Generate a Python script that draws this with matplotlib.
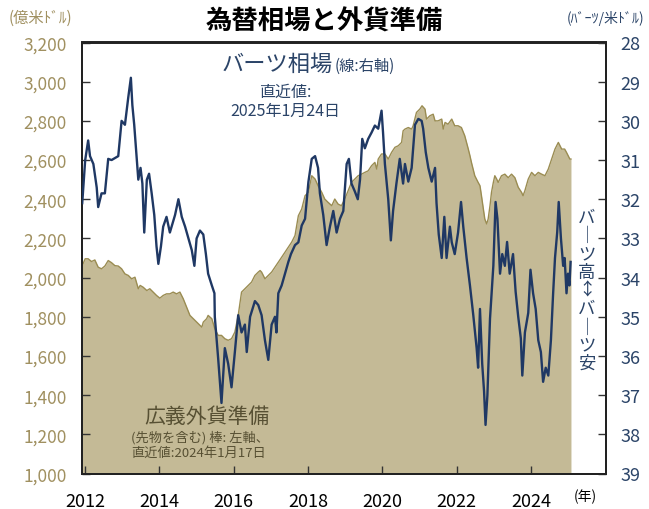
import matplotlib
matplotlib.use("Agg")
import matplotlib.pyplot as plt
from matplotlib.ticker import FuncFormatter

plt.rcParams['font.family'] = ['Noto Sans CJK JP', 'DejaVu Sans']

# ---- data ----
baht_year = [2011.92, 2012.00, 2012.08, 2012.13, 2012.22, 2012.31, 2012.35, 2012.44, 2012.53, 2012.62,
             2012.71, 2012.89, 2012.98, 2013.07, 2013.16, 2013.23, 2013.27, 2013.32, 2013.39, 2013.43,
             2013.49, 2013.54, 2013.59, 2013.66, 2013.72, 2013.79, 2013.86, 2013.92, 2013.97, 2014.04,
             2014.10, 2014.19, 2014.28, 2014.42, 2014.51, 2014.60, 2014.69, 2014.78, 2014.87, 2014.94,
             2015.00, 2015.09, 2015.18, 2015.25, 2015.31, 2015.41, 2015.48, 2015.49, 2015.58, 2015.67,
             2015.76, 2015.85, 2015.94, 2016.03, 2016.12, 2016.21, 2016.30, 2016.35, 2016.44, 2016.57,
             2016.66, 2016.75, 2016.84, 2016.93, 2017.02, 2017.11, 2017.15, 2017.20, 2017.29, 2017.38,
             2017.47, 2017.54, 2017.65, 2017.74, 2017.83, 2017.92, 2018.01, 2018.10, 2018.19, 2018.27,
             2018.32, 2018.41, 2018.50, 2018.59, 2018.68, 2018.77, 2018.86, 2018.95, 2019.04, 2019.10,
             2019.17, 2019.26, 2019.34, 2019.40, 2019.46, 2019.53, 2019.62, 2019.71, 2019.80, 2019.89,
             2019.98, 2020.02, 2020.07, 2020.16, 2020.23, 2020.29, 2020.38, 2020.47, 2020.56, 2020.61,
             2020.70, 2020.79, 2020.88, 2020.97, 2021.06, 2021.10, 2021.17, 2021.24, 2021.33, 2021.42,
             2021.46, 2021.52, 2021.60, 2021.67, 2021.73, 2021.82, 2021.87, 2021.95, 2022.04, 2022.12,
             2022.18, 2022.27, 2022.36, 2022.45, 2022.54, 2022.58, 2022.63, 2022.69, 2022.74, 2022.78,
             2022.83, 2022.90, 2022.99, 2023.05, 2023.10, 2023.17, 2023.23, 2023.30, 2023.36, 2023.43,
             2023.52, 2023.59, 2023.66, 2023.73, 2023.77, 2023.84, 2023.93, 2023.99, 2024.06, 2024.13,
             2024.20, 2024.27, 2024.33, 2024.40, 2024.47, 2024.54, 2024.60, 2024.65, 2024.71, 2024.75,
             2024.81, 2024.87, 2024.91, 2024.96, 2025.00, 2025.04, 2025.07]
baht_rate = [32.1, 31.0, 30.5, 30.9, 31.1, 31.7, 32.2, 31.85, 31.85, 30.97,
             31.0, 30.9, 30.0, 30.1, 29.4, 28.9, 29.6, 30.1, 30.97, 31.5,
             31.2, 31.6, 32.85, 31.5, 31.35, 31.85, 32.4, 33.2, 33.65, 33.2,
             32.7, 32.45, 32.85, 32.4, 32.0, 32.45, 32.7, 33.0, 33.3, 33.7,
             33.0, 32.8, 32.9, 33.4, 33.9, 34.2, 34.4, 35.0, 36.06, 37.2,
             35.8, 36.2, 36.8, 35.9, 34.96, 35.4, 35.2, 35.9, 35.0, 34.6,
             34.7, 34.96, 35.6, 36.1, 35.2, 35.0, 35.4, 34.4, 34.2, 33.9,
             33.6, 33.4, 33.17, 33.1, 32.67, 32.5, 31.56, 30.97, 30.9, 31.2,
             31.85, 32.4, 33.17, 32.7, 32.3, 32.85, 32.5, 32.3, 31.1, 30.97,
             31.6, 31.8, 32.0, 31.5, 30.46, 30.7, 30.46, 30.3, 30.12, 30.2,
             29.74, 30.3, 31.1, 32.0, 33.05, 32.3, 31.6, 30.97, 31.6, 31.1,
             31.55, 31.2, 30.1, 29.95, 30.0, 30.2, 30.8, 31.2, 31.55, 31.2,
             32.1, 32.9, 33.5, 32.45, 33.5, 32.7, 33.1, 33.4, 32.85, 32.07,
             32.7, 33.5, 34.2, 34.96, 35.8, 36.3, 34.8, 36.2, 36.9, 37.76,
             37.0, 35.05, 33.7, 32.07, 32.5, 33.9, 33.4, 33.7, 33.09, 33.9,
             33.4, 34.36, 35.0, 35.55, 36.5, 35.4, 34.9, 33.8, 34.4, 34.8,
             35.6, 35.9, 36.66, 36.3, 36.5, 35.6, 34.4, 33.5, 32.84, 32.07,
             33.0, 33.7, 33.5, 34.4, 33.9, 34.2, 33.6]

res_year = [2011.92, 2012.00, 2012.08, 2012.17, 2012.26, 2012.35, 2012.44, 2012.53, 2012.62, 2012.71,
            2012.80, 2012.89, 2012.98, 2013.07, 2013.16, 2013.25, 2013.34, 2013.43, 2013.48, 2013.56,
            2013.66, 2013.74, 2013.83, 2013.92, 2014.01, 2014.10, 2014.19, 2014.28, 2014.37, 2014.46,
            2014.55, 2014.64, 2014.73, 2014.82, 2014.91, 2015.00, 2015.09, 2015.14, 2015.18, 2015.27,
            2015.31, 2015.41, 2015.49, 2015.58, 2015.67, 2015.76, 2015.85, 2015.94, 2016.03, 2016.12,
            2016.21, 2016.30, 2016.39, 2016.48, 2016.57, 2016.66, 2016.71, 2016.75, 2016.84, 2016.93,
            2017.02, 2017.11, 2017.20, 2017.29, 2017.38, 2017.47, 2017.56, 2017.65, 2017.74, 2017.83,
            2017.92, 2018.01, 2018.10, 2018.19, 2018.27, 2018.37, 2018.45, 2018.54, 2018.64, 2018.72,
            2018.81, 2018.90, 2018.99, 2019.08, 2019.17, 2019.26, 2019.35, 2019.44, 2019.53, 2019.62,
            2019.71, 2019.80, 2019.85, 2019.89, 2019.98, 2020.07, 2020.16, 2020.25, 2020.34, 2020.43,
            2020.52, 2020.56, 2020.61, 2020.70, 2020.79, 2020.83, 2020.92, 2021.01, 2021.07, 2021.15,
            2021.19, 2021.28, 2021.37, 2021.42, 2021.50, 2021.60, 2021.64, 2021.69, 2021.77, 2021.87,
            2021.95, 2022.04, 2022.13, 2022.22, 2022.31, 2022.36, 2022.40, 2022.49, 2022.58, 2022.63,
            2022.67, 2022.72, 2022.76, 2022.81, 2022.85, 2022.90, 2022.94, 2022.99, 2023.03, 2023.08,
            2023.12, 2023.21, 2023.30, 2023.39, 2023.48, 2023.57, 2023.66, 2023.75, 2023.79, 2023.84,
            2023.93, 2024.02, 2024.11, 2024.20, 2024.29, 2024.38, 2024.47, 2024.56, 2024.65, 2024.74,
            2024.83, 2024.91, 2024.96, 2025.05, 2025.08]
res_value = [2061, 2096, 2096, 2082, 2090, 2053, 2045, 2059, 2087, 2076,
             2061, 2059, 2045, 2019, 2011, 1994, 2002, 1943, 1960, 1951,
             1934, 1943, 1926, 1909, 1895, 1909, 1917, 1917, 1926, 1917,
             1926, 1892, 1850, 1807, 1790, 1773, 1756, 1747, 1773, 1790,
             1807, 1790, 1739, 1705, 1705, 1688, 1680, 1688, 1722, 1807,
             1926, 1943, 1960, 1977, 2011, 2028, 2036, 2028, 1994, 2011,
             2028, 2053, 2079, 2104, 2130, 2155, 2181, 2215, 2316, 2350,
             2418, 2435, 2520, 2503, 2469, 2435, 2401, 2384, 2367, 2401,
             2375, 2367, 2401, 2444, 2486, 2503, 2520, 2528, 2537, 2545,
             2571, 2588, 2554, 2605, 2631, 2631, 2605, 2639, 2665, 2673,
             2690, 2749, 2758, 2766, 2758, 2775, 2843, 2860, 2877, 2860,
             2809, 2826, 2834, 2800, 2800, 2809, 2758, 2792, 2783, 2809,
             2775, 2775, 2766, 2724, 2660, 2622, 2588, 2520, 2486, 2469,
             2418, 2350, 2299, 2274, 2299, 2367, 2435, 2486, 2520, 2503,
             2486, 2520, 2528, 2510, 2528, 2510, 2461, 2435, 2418, 2444,
             2503, 2537, 2520, 2537, 2528, 2520, 2554, 2605, 2656, 2690,
             2656, 2656, 2639, 2605, 2605]

x_ticks = [2012, 2014, 2016, 2018, 2020, 2022, 2024]
x_tick_labels = ['2012', '2014', '2016', '2018', '2020', '2022', '2024']
left_ticks = list(range(1000, 3201, 200))
right_ticks = list(range(28, 40))

# ---- style ----
W, H = 649, 510
NAVY = '#1F3864'
NAVY_TXT = '#2B4468'
FILL = '#C4BA96'
EDGE = '#9A8C52'
OLIVE_TXT = '#A09060'
DARK_OLIVE = '#575033'

def fx(x):
    return x / W

def fy(y):
    return 1 - y / H

fig = plt.figure(figsize=(W / 100, H / 100), dpi=100)
ax = fig.add_axes([fx(82), fy(474.5), (605.5 - 82) / W, (474.5 - 43.5) / H])
ax.set_xlim(2011.914, 2026.01)
ax.set_ylim(1000, 3200)

ax.fill_between(res_year, 1000, res_value, color=FILL, lw=0, zorder=1)
ax.plot(res_year, res_value, color=EDGE, lw=1.0, zorder=2)

ax2 = ax.twinx()
ax2.set_ylim(39, 28)
ax2.plot(baht_year, baht_rate, color=NAVY, lw=1.7, zorder=3)

ax.set_xticks(x_ticks)
ax.set_xticklabels(x_tick_labels)
ax.set_yticks(left_ticks)
ax.yaxis.set_major_formatter(FuncFormatter(lambda v, p: f'{int(v):,}'))
ax2.set_yticks(right_ticks)

ax.tick_params(axis='x', direction='in', length=6, width=1, color='#333333',
               labelsize=13, pad=13, labelcolor='black')
ax.tick_params(axis='y', direction='in', length=6, width=1, color='#333333',
               labelsize=12.5, pad=11, labelcolor=OLIVE_TXT)
ax2.tick_params(axis='y', direction='in', length=6, width=1, color='#333333',
                labelsize=13, pad=11, labelcolor=NAVY_TXT)

for a in (ax, ax2):
    for s in a.spines.values():
        s.set_color('#222222')
        s.set_linewidth(1.4)

# ---- texts ----
fig.text(fx(324), fy(22), '為替相場と外貨準備', ha='center', va='center',
         fontsize=19, fontweight='bold', color='black')
fig.text(fx(40), fy(18), '(億米ﾄﾞﾙ)', ha='center', va='center', fontsize=11, color=OLIVE_TXT)
fig.text(fx(606), fy(18), '(ﾊﾞｰﾂ/米ﾄﾞﾙ)', ha='center', va='center', fontsize=10, color=NAVY_TXT)
fig.text(fx(585), fy(497), '(年)', ha='center', va='center', fontsize=10, color='black')

fig.text(fx(222), fy(64), 'バーツ相場', ha='left', va='center', fontsize=16, color=NAVY_TXT)
fig.text(fx(335), fy(66), '(線:右軸)', ha='left', va='center', fontsize=11, color=NAVY_TXT)
fig.text(fx(285), fy(92), '直近値:', ha='center', va='center', fontsize=11.5, color=NAVY_TXT)
fig.text(fx(285), fy(111), '2025年1月24日', ha='center', va='center', fontsize=11.5, color=NAVY_TXT)

fig.text(fx(207), fy(417), '広義外貨準備', ha='center', va='center', fontsize=15, color=DARK_OLIVE)
fig.text(fx(131), fy(438), '(先物を含む) 棒: 左軸、', ha='left', va='center', fontsize=9.5, color=DARK_OLIVE)
fig.text(fx(131), fy(453), '直近値:2024年1月17日', ha='left', va='center', fontsize=9.5, color=DARK_OLIVE)

vert = '\n'.join(['バ', '｜', 'ツ', '高', '↕', 'バ', '｜', 'ツ', '安'])
fig.text(fx(587), fy(291), vert, ha='center', va='center', fontsize=12.5,
         linespacing=1.02, color=NAVY_TXT)

fig.savefig('out.png', dpi=100)
